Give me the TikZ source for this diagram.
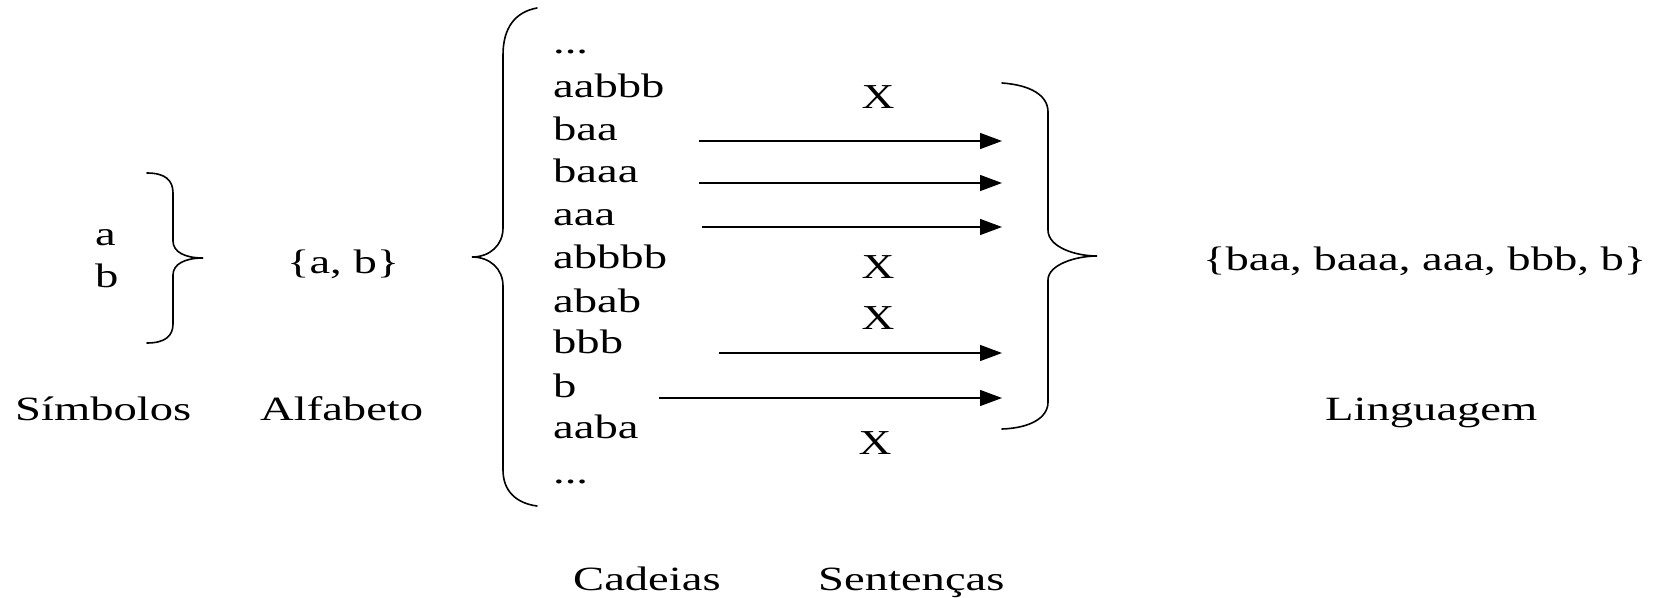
\documentclass[tikz,border=0pt]{standalone}
\usepackage{fontspec}
\setmainfont[FakeStretch=1.37]{Liberation Serif}
\newfontfamily\xfont[FakeStretch=1.3]{Liberation Serif}
\usetikzlibrary{arrows.meta}
\begin{document}
\begin{tikzpicture}[x=1pt,y=-1pt,
  txt/.style={inner sep=0pt, anchor=base west, font=\fontsize{34}{40}\selectfont},
  xmark/.style={inner sep=0pt, anchor=base, font=\xfont\fontsize{35}{40}\selectfont},
  brace/.style={line width=1.6pt, line cap=round},
  arr/.style={line width=1.4pt, -{Triangle[length=22pt,width=16pt]}}]
\useasboundingbox (0,0) rectangle (1653,597);

% symbols
\node[txt] (sa) at (95,245) {a};
\node[txt] (sb) at (95,287) {b};
\draw[brace] (147,173) .. controls (165,173) and (173,180) .. (173,193) -- (173,241)
  .. controls (173,252) and (185,258) .. (203,258)
  .. controls (185,258) and (173,264) .. (173,275) -- (173,324)
  .. controls (173,336) and (165,343) .. (147,343);
\node[txt] (alf) at (287,273) {\{a, b\}};
\node[txt] (lsim) at (15,420) {Símbolos};
\node[txt] (lalf) at (260,420) {Alfabeto};

% strings
\draw[brace] (537,8) .. controls (515,12) and (503,28) .. (503,55) -- (503,228)
  .. controls (503,245) and (490,257) .. (472,257)
  .. controls (490,257) and (503,269) .. (503,286) -- (503,470)
  .. controls (503,490) and (515,503) .. (537,506);
\node[txt] (c0) at (553,53) {...};
\node[txt] (c1) at (553,97) {aabbb};
\node[txt] (c2) at (553,140) {baa};
\node[txt] (c3) at (553,182) {baaa};
\node[txt] (c4) at (553,225) {aaa};
\node[txt] (c5) at (553,268) {abbbb};
\node[txt] (c6) at (553,312) {abab};
\node[txt] (c7) at (553,353) {bbb};
\node[txt] (c8) at (553,397) {b};
\node[txt] (c9) at (553,438) {aaba};
\node[txt] (c10) at (553,483) {...};

% rejection marks
\node[xmark] (x1) at (878,108) {X};
\node[xmark] (x2) at (878,278) {X};
\node[xmark] (x3) at (878,329) {X};
\node[xmark] (x4) at (875,454) {X};

% arrows
\coordinate (s2) at (699,141);  \coordinate (e2) at (1002,141);
\coordinate (s3) at (699,183);  \coordinate (e3) at (1002,183);
\coordinate (s4) at (702,227);  \coordinate (e4) at (1002,227);
\coordinate (s7) at (719,353);  \coordinate (e7) at (1002,353);
\coordinate (s8) at (659,398);  \coordinate (e8) at (1002,398);
\draw[arr] (s2) -- (e2);
\draw[arr] (s3) -- (e3);
\draw[arr] (s4) -- (e4);
\draw[arr] (s7) -- (e7);
\draw[arr] (s8) -- (e8);

% sentence brace
\draw[brace] (1002,83) .. controls (1030,85) and (1048,95) .. (1048,112) -- (1048,230)
  .. controls (1048,247) and (1075,256) .. (1097,256)
  .. controls (1075,256) and (1048,265) .. (1048,280) -- (1048,402)
  .. controls (1048,418) and (1030,428) .. (1002,429);

\node[txt] (lang) at (1203,270) {\{baa, baaa, aaa, bbb, b\}};
\node[txt] (llang) at (1325,420) {Linguagem};
\node[txt] (lcad) at (573,590) {Cadeias};
\node[txt] (lsen) at (818,590) {Sentenças};
\end{tikzpicture}
\end{document}
